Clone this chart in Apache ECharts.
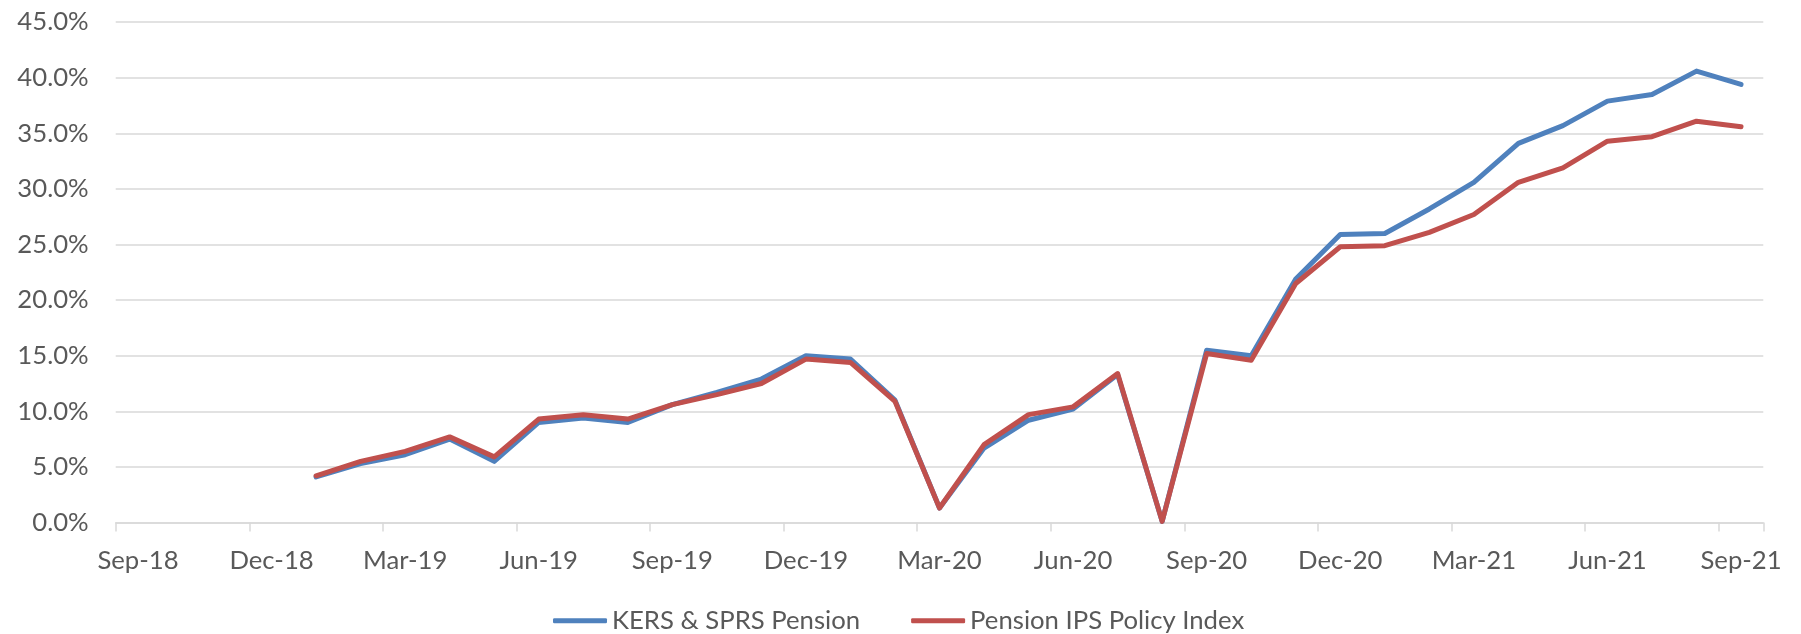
<!DOCTYPE html>
<html>
<head>
<meta charset="utf-8">
<script src="https://cdn.jsdelivr.net/npm/echarts@6/dist/echarts.min.js"></script>
<style>
html,body{margin:0;padding:0;background:#fff;}
#chart{width:1801px;height:634px;}
</style>
</head>
<body>
<div id="chart"></div>
<script>
// Month categories (date axis, one slot per month)
const months = ['Sep-18','Oct-18','Nov-18','Dec-18','Jan-19','Feb-19','Mar-19','Apr-19','May-19','Jun-19','Jul-19','Aug-19',
  'Sep-19','Oct-19','Nov-19','Dec-19','Jan-20','Feb-20','Mar-20','Apr-20','May-20','Jun-20','Jul-20','Aug-20',
  'Sep-20','Oct-20','Nov-20','Dec-20','Jan-21','Feb-21','Mar-21','Apr-21','May-21','Jun-21','Jul-21','Aug-21','Sep-21'];

// Series values in percent (null = no data)
const kersSprs = [null,null,null,null,
  4.1,5.3,6.1,7.5,5.5,9.0,9.4,9.0,10.6,11.7,12.9,15.0,14.7,11.0,1.3,6.7,9.2,10.2,13.3,0.1,
  15.5,15.0,21.9,25.9,26.0,28.2,30.6,34.1,35.7,37.9,38.5,40.6,39.4];
const policyIndex = [null,null,null,null,
  4.2,5.5,6.4,7.7,5.9,9.3,9.7,9.3,10.6,11.5,12.5,14.7,14.4,10.9,1.3,7.0,9.7,10.4,13.4,0.1,
  15.2,14.6,21.5,24.8,24.9,26.1,27.7,30.6,31.9,34.3,34.7,36.1,35.6];

const seriesNames = ['KERS & SPRS Pension', 'Pension IPS Policy Index'];
const yTicks = {min: 0, max: 45, interval: 5};

const FONT = 'Lato, "Open Sans", sans-serif';
const ctx = document.createElement('canvas').getContext('2d');
ctx.font = '100px ' + FONT;
const fs = Math.round(248.7 / ctx.measureText(seriesNames[0]).width * 1000) / 10;

const textColor = '#595959';
const gridColor = '#d9d9d9';

const chart = echarts.init(document.getElementById('chart'), null, {renderer: 'canvas'});
chart.setOption({
  animation: false,
  backgroundColor: '#ffffff',
  grid: {left: 115.7, right: 37.7, top: 22.2, bottom: 111.5, containLabel: false},
  legend: {
    data: seriesNames,
    left: 548,
    top: 620.7 - fs / 2 - 5,
    icon: 'roundRect',
    itemWidth: 54,
    itemHeight: 5,
    itemGap: 51,
    textStyle: {fontFamily: FONT, fontSize: fs, color: textColor, padding: [0, 0, 0, 0]}
  },
  xAxis: {
    type: 'category',
    data: months,
    boundaryGap: true,
    axisLine: {lineStyle: {color: gridColor, width: 1.5}},
    axisTick: {show: true, interval: 2, length: 9, lineStyle: {color: gridColor, width: 1.5}},
    axisLabel: {interval: 2, margin: 25, fontFamily: FONT, fontSize: fs, color: textColor},
    splitLine: {show: false}
  },
  yAxis: {
    type: 'value',
    min: yTicks.min, max: yTicks.max, interval: yTicks.interval,
    axisLine: {show: false},
    axisTick: {show: false},
    axisLabel: {margin: 27, fontFamily: FONT, fontSize: fs, color: textColor,
      formatter: v => v.toFixed(1) + '%'},
    splitLine: {lineStyle: {color: gridColor, width: 1.5}}
  },
  series: [
    {name: seriesNames[0], type: 'line', data: kersSprs, showSymbol: false, symbol: 'none',
      color: '#4f81bd',
      lineStyle: {width: 5, color: '#4f81bd', cap: 'round', join: 'round'}},
    {name: seriesNames[1], type: 'line', data: policyIndex, showSymbol: false, symbol: 'none',
      color: '#c0504d',
      lineStyle: {width: 5, color: '#c0504d', cap: 'round', join: 'round'}}
  ]
});
</script>
</body>
</html>
